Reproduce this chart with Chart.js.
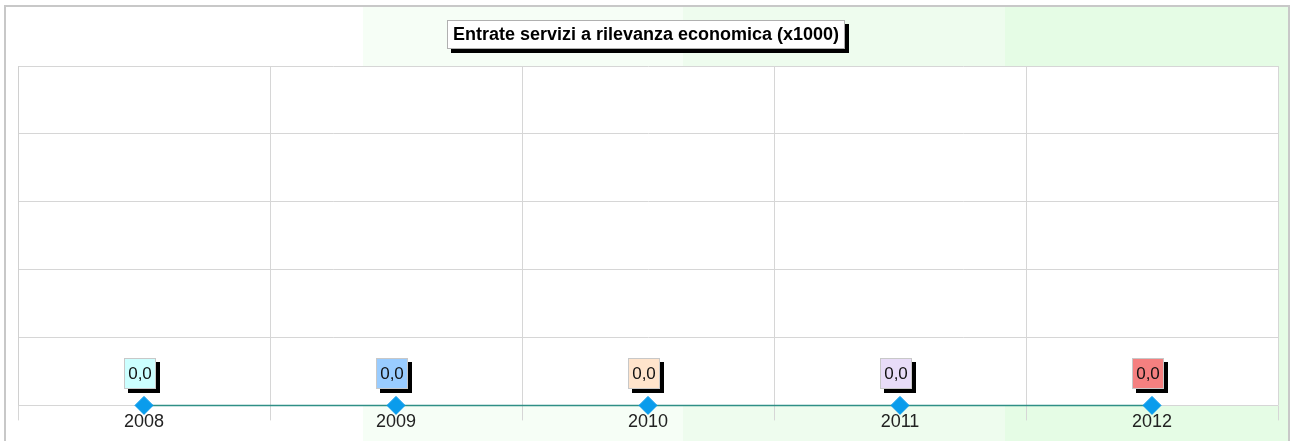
<!DOCTYPE html>
<html>
<head>
<meta charset="utf-8">
<title>Entrate servizi a rilevanza economica</title>
<script src="https://cdn.jsdelivr.net/npm/chart.js@4.4.1/dist/chart.umd.min.js"></script>
<style>
  html, body { margin: 0; padding: 0; background: #ffffff; }
  #wrap { width: 1295px; height: 441px; position: relative; }
</style>
</head>
<body>
<div id="wrap"><canvas id="chart" width="1295" height="441"></canvas></div>
<script>
// Years on the category axis and the yearly amounts (thousands of euro)
const years = ['2008', '2009', '2010', '2011', '2012'];
const entrate = [0, 0, 0, 0, 0];
const chartTitle = 'Entrate servizi a rilevanza economica (x1000)';
const yMin = 0;
const yMax = 5;

// Fill colours of the value boxes, one per year
const boxFills = ['#ccffff', '#99ccff', '#ffe4cc', '#e8dcf8', '#f58080'];
const FONT = '"Liberation Sans", Arial, sans-serif';
const GRID = '#d6d6d6';

function fmt(v) {
  return v.toLocaleString('it-IT', { minimumFractionDigits: 1, maximumFractionDigits: 1 });
}

// Panel background: vertical bands fading to green, framed in grey, white plot area
const backdrop = {
  id: 'backdrop',
  beforeDraw(chart) {
    const ctx = chart.ctx;
    const a = chart.chartArea;
    ctx.save();
    ctx.fillStyle = '#ffffff';
    ctx.fillRect(0, 0, chart.width, chart.height);
    const bands = [
      [5, 363, '#ffffff'],
      [363, 683, '#f6fef6'],
      [683, 1005, '#eefcee'],
      [1005, 1289, '#e5fce5']
    ];
    bands.forEach(([x0, x1, c]) => {
      ctx.fillStyle = c;
      ctx.fillRect(x0, 6, x1 - x0, chart.height - 6);
    });
    ctx.strokeStyle = '#c8c8c8';
    ctx.lineWidth = 2;
    ctx.beginPath();
    ctx.moveTo(5, chart.height + 2);
    ctx.lineTo(5, 6);
    ctx.lineTo(1289, 6);
    ctx.lineTo(1289, chart.height + 2);
    ctx.stroke();
    ctx.fillStyle = '#ffffff';
    ctx.fillRect(a.left, a.top, a.right - a.left, a.bottom - a.top);
    ctx.restore();
  }
};

// Category boundary ticks hanging below the plot area
const boundaryTicks = {
  id: 'boundaryTicks',
  beforeDatasetsDraw(chart) {
    const ctx = chart.ctx;
    const xs = chart.scales.x;
    const a = chart.chartArea;
    const n = chart.data.labels.length;
    const step = (a.right - a.left) / n;
    ctx.save();
    ctx.strokeStyle = GRID;
    ctx.lineWidth = 1;
    ctx.beginPath();
    for (let i = 0; i <= n; i++) {
      const x = Math.round(xs.left + i * step) + 0.5;
      ctx.moveTo(x, a.bottom);
      ctx.lineTo(x, a.bottom + 15);
    }
    ctx.stroke();
    ctx.restore();
  }
};

// Title drawn in a boxed label with a black drop shadow
const boxedTitle = {
  id: 'boxedTitle',
  afterDraw(chart) {
    const ctx = chart.ctx;
    ctx.save();
    ctx.font = 'bold 18px ' + FONT;
    const tw = ctx.measureText(chartTitle).width;
    const w = Math.round(tw + 12);
    const h = 29;
    const cx = 646;
    const x = Math.round(cx - w / 2);
    const y = 20;
    ctx.fillStyle = '#000000';
    ctx.fillRect(x + 4, y + 4, w, h);
    ctx.fillStyle = '#ffffff';
    ctx.fillRect(x, y, w, h);
    ctx.strokeStyle = '#b0b0b0';
    ctx.lineWidth = 1;
    ctx.strokeRect(x + 0.5, y + 0.5, w - 1, h - 1);
    ctx.fillStyle = '#000000';
    ctx.textAlign = 'center';
    ctx.textBaseline = 'middle';
    ctx.fillText(chartTitle, cx, y + h / 2 + 1);
    ctx.restore();
  }
};

// Value boxes above each point
const valueBoxes = {
  id: 'valueBoxes',
  afterDatasetsDraw(chart) {
    const ctx = chart.ctx;
    const meta = chart.getDatasetMeta(0);
    const data = chart.data.datasets[0].data;
    ctx.save();
    ctx.font = '17px ' + FONT;
    meta.data.forEach((pt, i) => {
      const txt = fmt(data[i]);
      const tw = ctx.measureText(txt).width;
      const w = Math.round(tw + 8);
      const h = 31;
      const x = Math.round(pt.x - w / 2) - 4;
      const y = Math.round(pt.y) - 47;
      ctx.fillStyle = '#000000';
      ctx.fillRect(x + 4, y + 4, w, h);
      ctx.fillStyle = boxFills[i % boxFills.length];
      ctx.fillRect(x, y, w, h);
      ctx.strokeStyle = '#c8c8c8';
      ctx.lineWidth = 1;
      ctx.strokeRect(x + 0.5, y + 0.5, w - 1, h - 1);
      ctx.fillStyle = '#111111';
      ctx.textAlign = 'center';
      ctx.textBaseline = 'middle';
      ctx.fillText(txt, x + w / 2, y + h / 2 + 1);
    });
    ctx.restore();
  }
};

new Chart(document.getElementById('chart'), {
  type: 'line',
  data: {
    labels: years,
    datasets: [{
      data: entrate,
      borderColor: '#2f8f86',
      borderWidth: 1.5,
      backgroundColor: '#0a9cec',
      pointStyle: 'rectRot',
      pointRadius: 9,
      pointHoverRadius: 9,
      pointBackgroundColor: '#0a9cec',
      pointBorderColor: '#0a9cec',
      pointBorderWidth: 1,
      tension: 0,
      clip: false
    }]
  },
  options: {
    responsive: false,
    animation: false,
    events: [],
    layout: { padding: { left: 18, right: 17, top: 66, bottom: 2 } },
    plugins: {
      legend: { display: false },
      title: { display: false },
      tooltip: { enabled: false }
    },
    scales: {
      x: {
        type: 'category',
        offset: true,
        grid: {
          offset: true,
          color: GRID,
          lineWidth: 1,
          drawTicks: false
        },
        border: { display: false },
        ticks: {
          color: '#222222',
          padding: 6,
          font: { family: FONT, size: 18 },
          maxRotation: 0
        }
      },
      y: {
        min: yMin,
        max: yMax,
        ticks: { display: false, stepSize: 1 },
        grid: { color: GRID, lineWidth: 1, drawTicks: false },
        border: { display: true, color: '#d0d0d0' }
      }
    }
  },
  plugins: [backdrop, boundaryTicks, boxedTitle, valueBoxes]
});
</script>
</body>
</html>
